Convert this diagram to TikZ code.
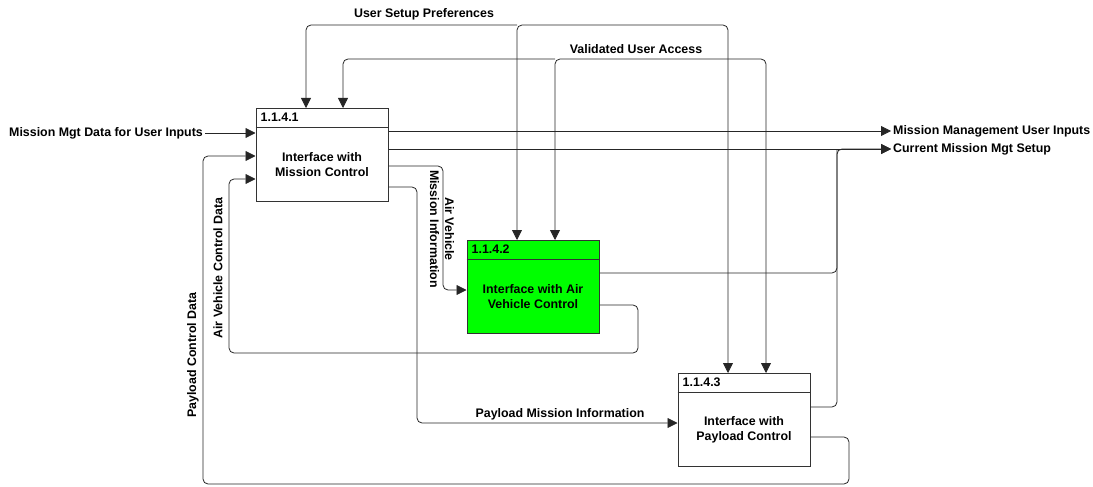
\documentclass[tikz,border=0pt]{standalone}
\usepackage{fontspec}
\setmainfont{Liberation Sans}
\usetikzlibrary{arrows.meta}
\definecolor{procgreen}{RGB}{0,255,0}

\begin{document}
\begin{tikzpicture}[x=1pt,y=-1pt,
  font=\bfseries\fontsize{12.4}{15}\selectfont,
  >={Triangle[length=10pt,width=10pt]},
  proc/.style={draw=black!80,line width=1pt,minimum width=132pt,minimum height=93pt,inner sep=0pt},
  pnum/.style={anchor=west,inner sep=0pt},
  ptext/.style={align=center,inner sep=0pt},
  lbl/.style={inner sep=2pt},
  wire/.style={draw=black!85,line width=0.8pt,rounded corners=5pt},
  flow/.style={wire,->}]
 \useasboundingbox (0,0) rectangle (1093,487);

 \node[proc] (mc) at (322,155) {};
 \node[proc,fill=procgreen] (avc) at (533,287) {};
 \node[proc] (pc) at (744,420) {};
 \foreach \b/\n in {mc/1.1.4.1,avc/1.1.4.2,pc/1.1.4.3}
 {
  \draw[draw=black!80,line width=1pt] ([yshift=-19pt]\b.north west) -- ([yshift=-19pt]\b.north east);
  \node[pnum] at ([xshift=5pt,yshift=-9.5pt]\b.north west) {\n};
 }
 \node[ptext] at ([yshift=-9.5pt]mc.center) {Interface with\\Mission Control};
 \node[ptext] at ([yshift=-9.5pt]avc.center) {Interface with Air\\Vehicle Control};
 \node[ptext] at ([yshift=-9.5pt]pc.center) {Interface with\\Payload Control};

 \coordinate (usp) at (517,25);
 \coordinate (vua) at (555,59);
 \coordinate (cj) at (837,149);
 \node[lbl] (usplbl) at (424,14) {User Setup Preferences};
 \node[lbl] (vualbl) at (636,49) {Validated User Access};
 \node[lbl,anchor=east] (mmd) at (205,133) {Mission Mgt Data for User Inputs};
 \node[lbl,anchor=west] (mmui) at (891,131) {Mission Management User Inputs};
 \node[lbl,anchor=west] (cmms) at (891,149) {Current Mission Mgt Setup};
 \node[lbl,rotate=-90,align=center] (avmi) at (442,229) {Air Vehicle\\Mission Information};
 \node[lbl] (pmi) at (560,414) {Payload Mission Information};
 \node[lbl,rotate=90] (avcd) at (218,268) {Air Vehicle Control Data};
 \node[lbl,rotate=90] (pcd) at (193,355) {Payload Control Data};

 \draw[flow,<->] (avc.north -| usp) -- (usp) -| (pc.north -| 728,0);
 \draw[flow] (usp) -| (mc.north -| 306,0);
 \draw[flow,<->] (avc.north -| vua) -- (vua) -| (pc.north -| 766,0);
 \draw[flow] (vua) -| (mc.north -| 343,0);
 \draw[flow] (mmd) -- (mc.west |- mmd);
 \draw[flow] (mc.east |- mmui) -- (mmui);
 \draw[flow] (mc.east |- cmms) -- (cmms);
 \draw[flow] (pc.east |- 0,407) -| (cj) -- (cmms);
 \draw[wire] (avc.east |- 0,273) -| (cj);
 \draw[flow] (mc.east |- 0,166) -| (443,290) -- (avc.west |- 0,290);
 \draw[flow] (mc.east |- 0,187) -| (417,423) -- (pc.west |- 0,423);
 \draw[flow] (avc.east |- 0,305) -| (638,353) -| (229,179) -- (mc.west |- 0,179);
 \draw[flow] (pc.east |- 0,437) -| (849,484) -| (203,156) -- (mc.west |- 0,156);
\end{tikzpicture}
\end{document}
